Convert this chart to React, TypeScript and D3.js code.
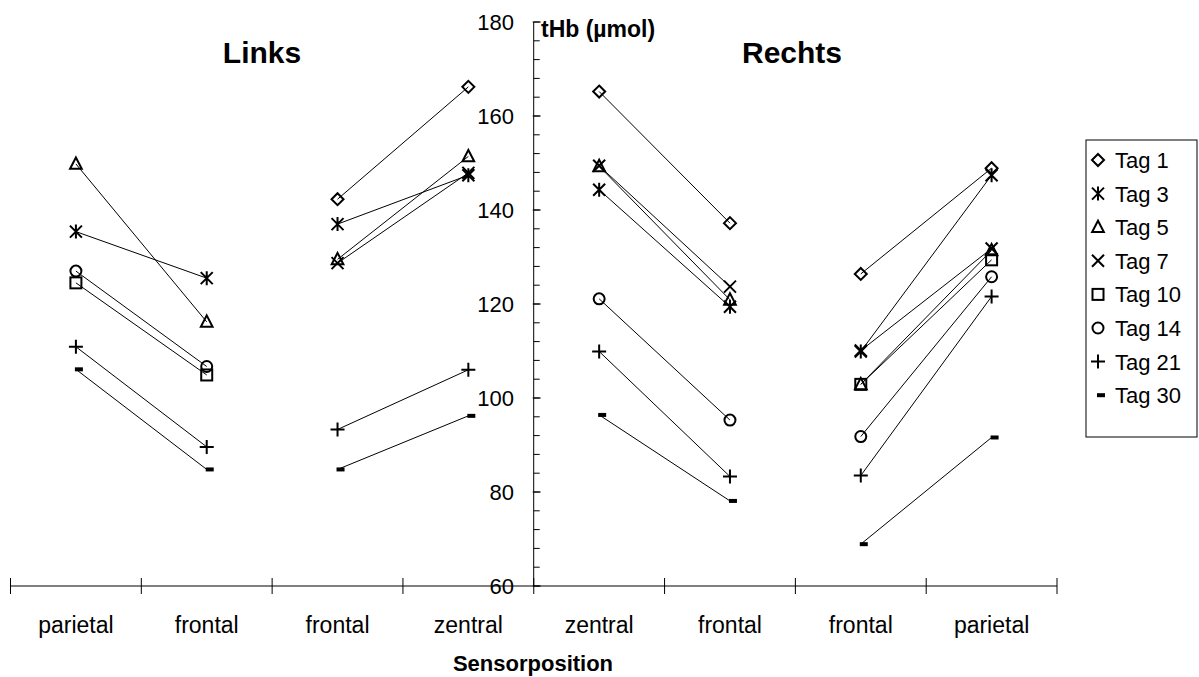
import React from "react";
import * as d3 from "d3";

// Sensor positions along the x axis (left hemisphere, then right hemisphere)
const categories = ["parietal", "frontal", "frontal", "zentral", "zentral", "frontal", "frontal", "parietal"];
const seriesNames = ["Tag 1", "Tag 3", "Tag 5", "Tag 7", "Tag 10", "Tag 14", "Tag 21", "Tag 30"];

// tHb (µmol) per sensor position; null = no measurement
const tag1 = [null, null, 142.3, 166.2, 165.2, 137.2, 126.4, 148.9];
const tag3 = [135.4, 125.5, 137.0, 147.4, 144.3, 119.4, 109.9, 147.4];
const tag5 = [149.8, 116.2, 129.5, 151.4, 149.3, 120.9, 102.9, 131.4];
const tag7 = [null, null, 128.7, 147.9, 149.4, 123.7, 110.1, 131.8];
const tag10 = [124.5, 104.9, null, null, null, null, 102.9, 129.4];
const tag14 = [127.0, 106.7, null, null, 121.1, 95.3, 91.8, 125.8];
const tag21 = [110.9, 89.6, 93.3, 106.0, 109.9, 83.3, 83.5, 121.6];
const tag30 = [106.1, 84.8, 84.8, 96.2, 96.4, 78.1, 68.9, 91.6];

const seriesValues = [tag1, tag3, tag5, tag7, tag10, tag14, tag21, tag30];
const markerKinds = ["diamond", "asterisk", "triangle", "cross", "square", "circle", "plus", "dash"];

// Each pair of neighbouring positions forms one connected segment
const segments = [[0, 1], [2, 3], [4, 5], [6, 7]];

const yTicks = [60, 80, 100, 120, 140, 160, 180];
const yMin = 60;
const yMax = 180;
const yMinorStep = 4;

const W = 1199;
const H = 677;
const plotLeft = 10.5;
const plotRight = 1057;
const plotTop = 22;
const plotBottom = 586;
const axisX = 533.7;

const FONT = "Arial, 'Liberation Sans', Helvetica, sans-serif";

function Marker({ kind, x, y }: { kind: string; x: number; y: number }) {
  const sw = 2;
  const k = "#000";
  switch (kind) {
    case "diamond": {
      const r = 6;
      return <path d={`M${x},${y - r}L${x + r},${y}L${x},${y + r}L${x - r},${y}Z`} fill="none" stroke={k} strokeWidth={sw} />;
    }
    case "asterisk": {
      const r = 6;
      return (
        <path
          d={`M${x - r},${y - r}L${x + r},${y + r}M${x - r},${y + r}L${x + r},${y - r}M${x},${y - r - 1}L${x},${y + r + 1}`}
          fill="none"
          stroke={k}
          strokeWidth={sw}
        />
      );
    }
    case "triangle": {
      const r = 6.5;
      return <path d={`M${x},${y - r}L${x + r * 0.9},${y + r * 0.75}L${x - r * 0.9},${y + r * 0.75}Z`} fill="none" stroke={k} strokeWidth={sw} />;
    }
    case "cross": {
      const r = 6;
      return <path d={`M${x - r},${y - r}L${x + r},${y + r}M${x - r},${y + r}L${x + r},${y - r}`} fill="none" stroke={k} strokeWidth={sw} />;
    }
    case "square": {
      const r = 5.5;
      return <rect x={x - r} y={y - r} width={2 * r} height={2 * r} fill="none" stroke={k} strokeWidth={sw} />;
    }
    case "circle":
      return <circle cx={x} cy={y} r={5.5} fill="none" stroke={k} strokeWidth={sw} />;
    case "plus": {
      const r = 7;
      return <path d={`M${x - r},${y}L${x + r},${y}M${x},${y - r}L${x},${y + r}`} fill="none" stroke={k} strokeWidth={sw} />;
    }
    case "dash":
      return <rect x={x - 1} y={y - 2} width={8} height={4} fill={k} />;
    default:
      return null;
  }
}

export default function App() {
  const x = d3
    .scalePoint<number>()
    .domain(d3.range(categories.length))
    .range([plotLeft, plotRight])
    .padding(0.5);
  const step = x.step();

  const y = d3.scaleLinear().domain([yMin, yMax]).range([plotBottom, plotTop]);
  const minorTicks = d3.range(yMin, yMax + 0.001, yMinorStep);
  const boundaries = d3.range(categories.length + 1).map((i) => plotLeft + i * step);

  const legendX = 1086;
  const legendY = 140;
  const legendW = 111;
  const legendH = 297;
  const legendRow = 33.6;

  return (
    <svg
      width={W}
      height={H}
      viewBox={`0 0 ${W} ${H}`}
      style={{ position: "absolute", left: 0, top: 0, background: "#fff" }}
      fontFamily={FONT}
    >
      <rect x={0} y={0} width={W} height={H} fill="#fff" />

      {/* Titles */}
      <text x={262} y={63} textAnchor="middle" fontSize={30} fontWeight="bold">Links</text>
      <text x={792} y={63} textAnchor="middle" fontSize={30} fontWeight="bold">Rechts</text>
      <text x={541} y={37} fontSize={23} fontWeight="bold">tHb (µmol)</text>

      {/* Y axis */}
      <line x1={axisX} x2={axisX} y1={y(yMax)} y2={y(yMin)} stroke="#000" strokeWidth={1} />
      {minorTicks.map((t) => (
        <line key={`m${t}`} x1={axisX} x2={axisX + 6} y1={y(t)} y2={y(t)} stroke="#000" strokeWidth={1} />
      ))}
      {yTicks.map((t) => (
        <g key={`t${t}`}>
          <line x1={axisX - 1} x2={axisX + 7} y1={y(t)} y2={y(t)} stroke="#000" strokeWidth={1} />
          <text x={514} y={y(t)} dy="0.36em" textAnchor="end" fontSize={22}>{t}</text>
        </g>
      ))}

      {/* X axis */}
      <line x1={plotLeft} x2={plotRight} y1={plotBottom} y2={plotBottom} stroke="#000" strokeWidth={1} />
      {boundaries.map((bx, i) => (
        <line key={`b${i}`} x1={bx} x2={bx} y1={plotBottom - 8} y2={plotBottom + 8} stroke="#000" strokeWidth={1} />
      ))}
      {categories.map((c, i) => (
        <text key={`c${i}`} x={x(i)} y={633} textAnchor="middle" fontSize={23}>{c}</text>
      ))}
      <text x={533} y={671} textAnchor="middle" fontSize={22} fontWeight="bold">Sensorposition</text>

      {/* Connecting lines */}
      {seriesValues.map((vals, s) =>
        segments.map(([a, b], j) => {
          const va = vals[a];
          const vb = vals[b];
          if (va == null || vb == null) return null;
          return (
            <line
              key={`l${s}-${j}`}
              x1={x(a)}
              y1={y(va)}
              x2={x(b)}
              y2={y(vb)}
              stroke="#000"
              strokeWidth={1}
            />
          );
        })
      )}

      {/* Markers */}
      {seriesValues.map((vals, s) =>
        vals.map((v, i) =>
          v == null ? null : <Marker key={`p${s}-${i}`} kind={markerKinds[s]} x={x(i) as number} y={y(v)} />
        )
      )}

      {/* Legend */}
      <rect x={legendX} y={legendY} width={legendW} height={legendH} fill="#fff" stroke="#000" strokeWidth={1} />
      {seriesNames.map((name, s) => {
        const ly = legendY + 20 + s * legendRow;
        return (
          <g key={`lg${s}`}>
            <Marker kind={markerKinds[s]} x={1098} y={ly} />
            <text x={1115} y={ly} dy="0.36em" fontSize={22}>{name}</text>
          </g>
        );
      })}
    </svg>
  );
}
